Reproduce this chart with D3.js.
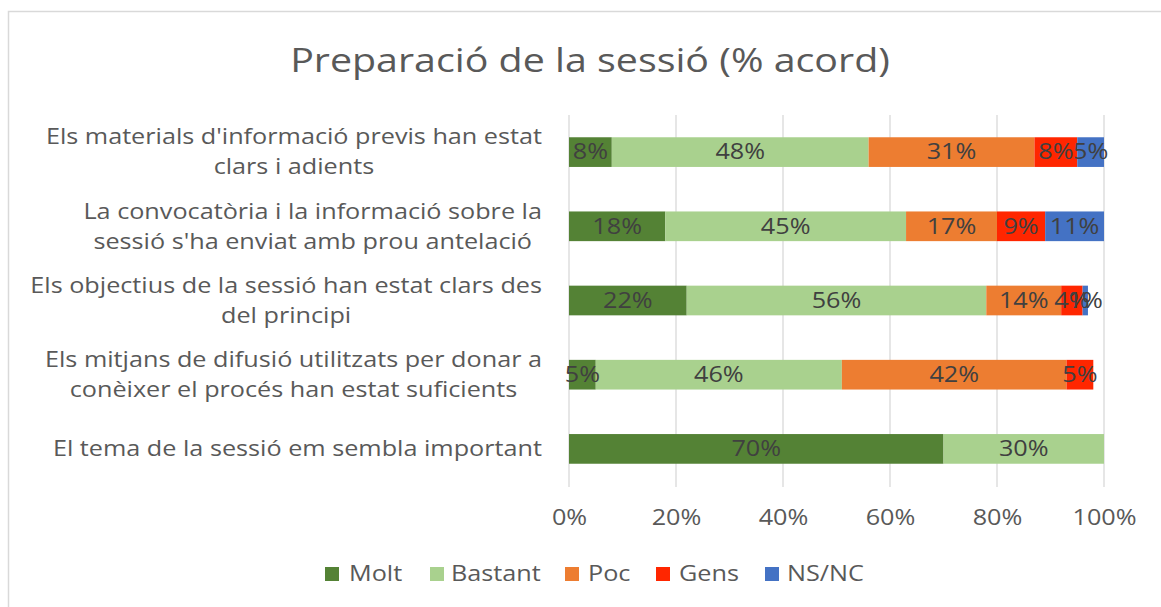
<!DOCTYPE html>
<html><head><meta charset="utf-8">
<script src="https://cdn.jsdelivr.net/npm/d3@7"></script>
<style>body{margin:0;background:#fff;} text{font-family:"Open Sans",sans-serif;}</style>
</head><body>
<svg id="c" width="1161" height="607"></svg>
<script>
const categories = [
  ["Els materials d'informació previs han estat", "clars i adients"],
  ["La convocatòria i la informació sobre la", "sessió s'ha enviat amb prou antelació"],
  ["Els objectius de la sessió han estat clars des", "del principi"],
  ["Els mitjans de difusió utilitzats per donar a", "conèixer el procés han estat suficients"],
  ["El tema de la sessió em sembla important"]
];
const seriesNames = ["Molt", "Bastant", "Poc", "Gens", "NS/NC"];
const molt    = [8, 18, 22, 5, 70];
const bastant = [48, 45, 56, 46, 30];
const poc     = [31, 17, 14, 42, 0];
const gens    = [8, 9, 4, 5, 0];
const nsnc    = [5, 11, 1, 0, 0];
const colors = ["#548235", "#a9d18e", "#ed7d31", "#ff2600", "#4472c4"];
const xTicks = [0, 20, 40, 60, 80, 100];

const seriesVals = [molt, bastant, poc, gens, nsnc];
const svg = d3.select("#c");

function stretch(sel, f) {
  sel.each(function() {
    const w = this.getComputedTextLength();
    d3.select(this).attr("textLength", w * f).attr("lengthAdjust", "spacingAndGlyphs");
  });
}

// chart border
svg.append("rect").attr("x", 8.5).attr("y", 11.5).attr("width", 1170).attr("height", 620)
  .attr("fill", "none").attr("stroke", "#d9d9d9").attr("stroke-width", 1.5);

const title = svg.append("text").attr("x", 590).attr("y", 72).attr("text-anchor", "middle")
  .attr("font-size", 32).attr("fill", "#595959").text("Preparació de la sessió (% acord)");
stretch(title, 1.23);

const x = d3.scaleLinear().domain([0, 100]).range([569, 1104]);
const y = d3.scaleBand().domain(d3.range(categories.length)).range([115, 486]).paddingInner(0.6).paddingOuter(0.3);

// gridlines
svg.append("g").selectAll("line").data(xTicks).join("line")
  .attr("x1", d => x(d)).attr("x2", d => x(d)).attr("y1", 115).attr("y2", 487)
  .attr("stroke", "#d9d9d9").attr("stroke-width", 1.3);

// axis
const ax = svg.append("g").attr("transform", "translate(0,487)")
  .call(d3.axisBottom(x).tickValues(xTicks).tickFormat(d => d + "%").tickSize(0).tickPadding(23));
ax.select(".domain").remove();
ax.selectAll("text").attr("font-size", 21).attr("fill", "#595959").attr("font-family", "Open Sans");
stretch(ax.selectAll("text"), 1.2);

// stacked
const rows = categories.map((c, i) => {
  const o = {i};
  seriesNames.forEach((s, k) => o[s] = seriesVals[k][i]);
  return o;
});
const stack = d3.stack().keys(seriesNames)(rows);
const g = svg.append("g");
stack.forEach((layer, k) => {
  layer.forEach((d, i) => {
    const v = d[1] - d[0];
    if (v <= 0) return;
    g.append("rect").attr("x", x(d[0])).attr("width", x(d[1]) - x(d[0]))
      .attr("y", y(i)).attr("height", y.bandwidth()).attr("fill", colors[k]);
  });
});
stack.forEach((layer, k) => {
  layer.forEach((d, i) => {
    const v = d[1] - d[0];
    if (v <= 0) return;
    const t = g.append("text").attr("x", (x(d[0]) + x(d[1])) / 2).attr("y", y(i) + y.bandwidth() / 2)
      .attr("dy", "0.35em").attr("text-anchor", "middle").attr("font-size", 21)
      .attr("fill", "#404040").text(v + "%");
    stretch(t, 1.2);
  });
});

// category labels: lines centred within a block whose right edge is fixed
const labelRight = 542;
categories.forEach((lines, i) => {
  const cy = y(i) + y.bandwidth() / 2;
  const n = lines.length;
  const ts = lines.map((ln, j) => {
    const t = svg.append("text").attr("y", cy + (j - (n - 1) / 2) * 30)
      .attr("dy", "0.35em").attr("text-anchor", "middle").attr("font-size", 21)
      .attr("fill", "#595959").text(ln);
    const w = t.node().getComputedTextLength() * 1.2;
    t.attr("textLength", w).attr("lengthAdjust", "spacingAndGlyphs");
    return {t, w};
  });
  const maxW = d3.max(ts, d => d.w);
  ts.forEach(d => d.t.attr("x", labelRight - maxW / 2));
});

// legend
const legSq = [325, 430, 565, 656, 765];
const legTx = [349, 451, 588, 679, 787];
const leg = svg.append("g");
seriesNames.forEach((s, k) => {
  leg.append("rect").attr("x", legSq[k]).attr("y", 567).attr("width", 14).attr("height", 14).attr("fill", colors[k]);
  const t = leg.append("text").attr("x", legTx[k]).attr("y", 574).attr("dy", "0.35em")
    .attr("font-size", 21).attr("fill", "#595959").text(s);
  stretch(t, 1.2);
});
</script>
</body></html>
